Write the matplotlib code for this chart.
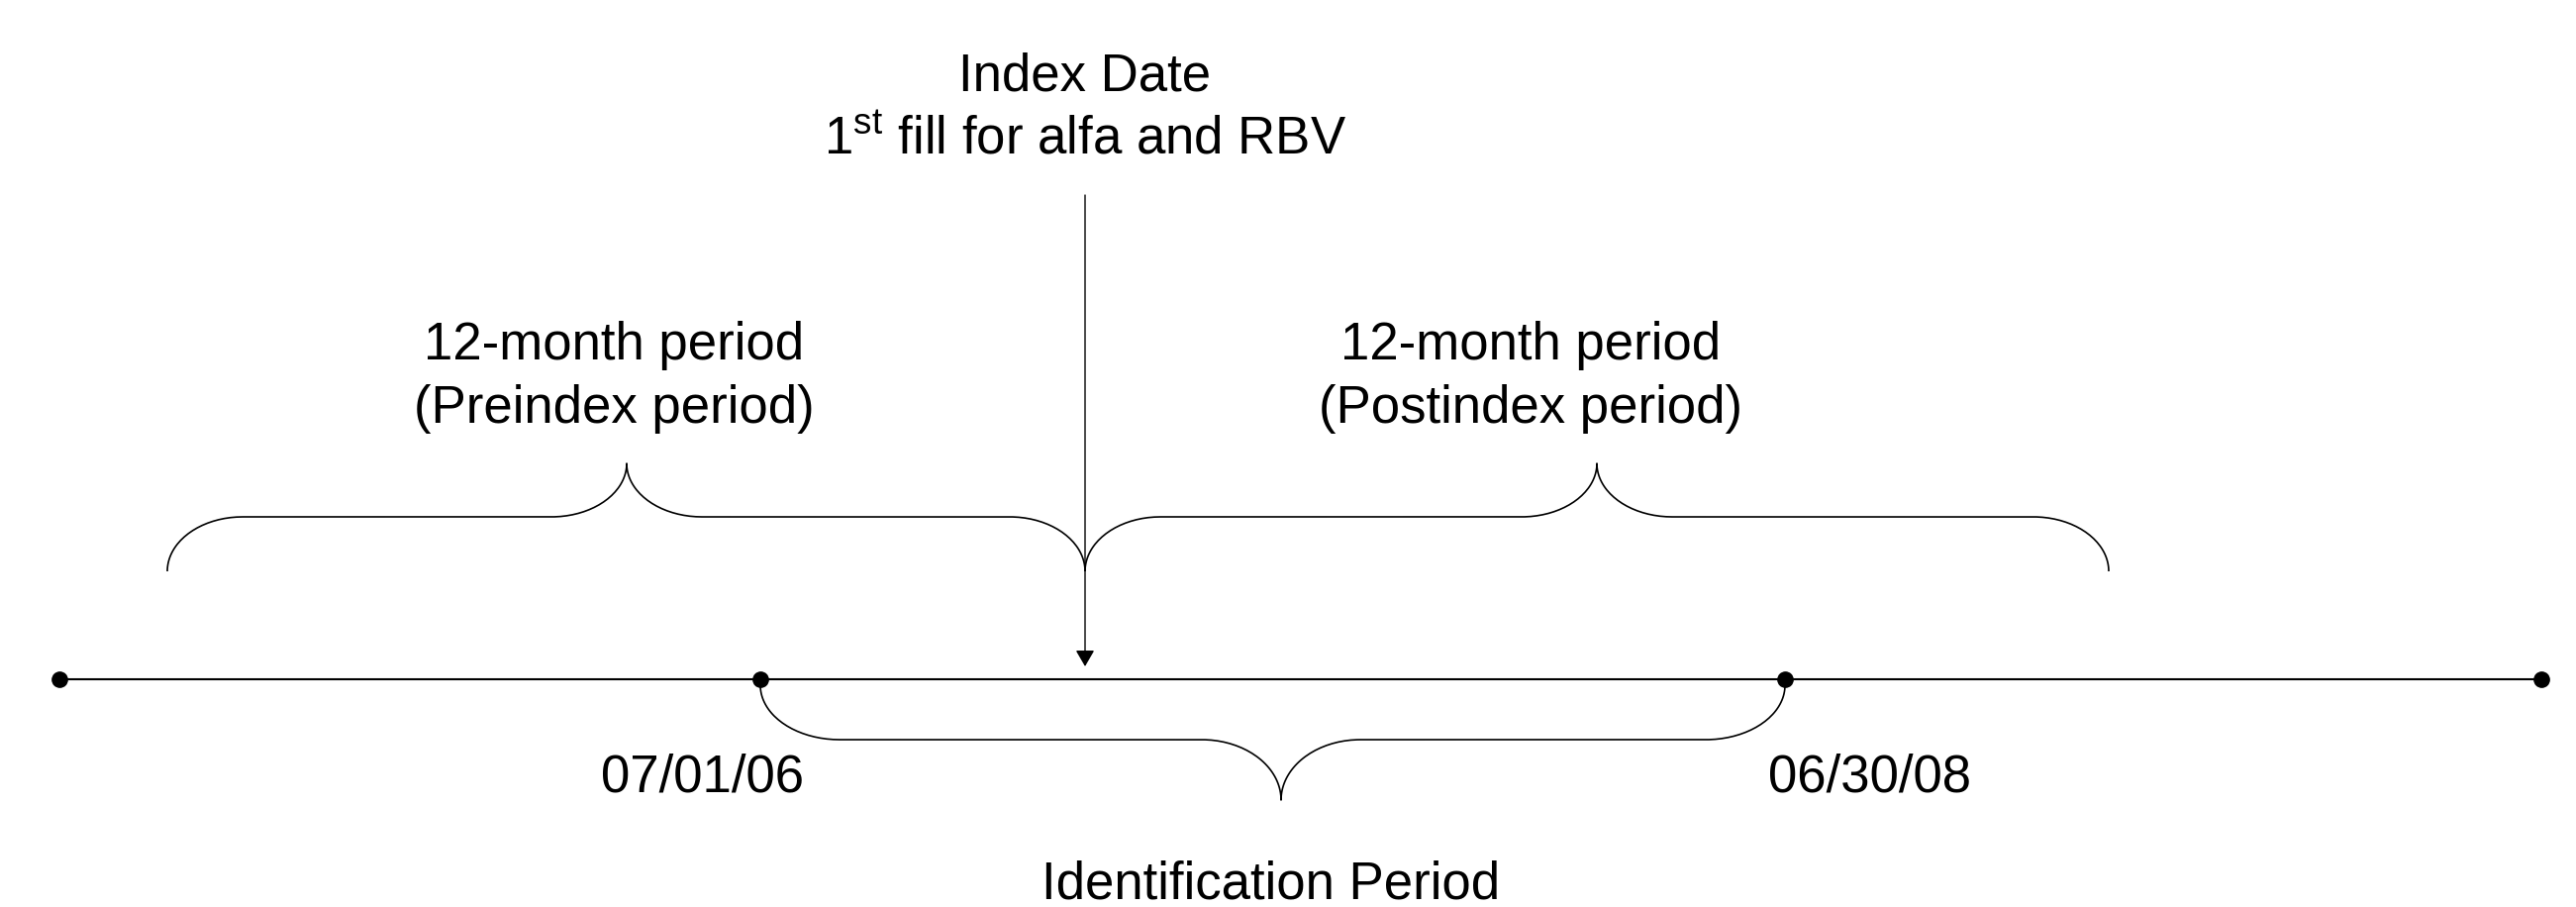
import matplotlib
matplotlib.use("Agg")
import matplotlib.pyplot as plt
import numpy as np

plt.rcParams["font.family"] = ["Liberation Sans", "DejaVu Sans"]
plt.rcParams["mathtext.fontset"] = "custom"
plt.rcParams["mathtext.rm"] = "Liberation Sans"

# timeline points (diagram units, x from left, y from top)
timeline_x = [60, 768, 1803, 2567]
timeline_y = 686
date_labels = ["07/01/06", "06/30/08"]
date_label_x = [710, 1888]

index_x = 1096
index_lines = ["Index Date", r"1$^{\mathrm{st}}$ fill for alfa and RBV"]

# top braces: (start, tip, end) and their labels
period_spans = [(169, 633, 1096), (1096, 1613, 2130)]
period_labels = [["12-month period", "(Preindex period)"],
                 ["12-month period", "(Postindex period)"]]
period_label_x = [620, 1546]

# bottom brace between the two dated points
ident_span = (768, 1294, 1803)
ident_label = "Identification Period"
ident_label_x = 1284


def brace(ax, x0, xm, x1, y_end, y_mid, y_tip, rx, lw=1.2):
    t = np.linspace(0, np.pi / 2, 40)
    ry_end = y_end - y_mid
    ry_tip = y_mid - y_tip
    # left end
    xa = x0 + rx - rx * np.cos(t)
    ya = y_end - ry_end * np.sin(t)
    # into the tip from the left
    xb = xm - rx + rx * np.sin(t)
    yb = y_tip + ry_tip * np.cos(t)
    # out of the tip to the right
    xc = xm + rx - rx * np.cos(t)
    yc = y_tip + ry_tip * np.sin(t)
    # right end
    xd = x1 - rx + rx * np.sin(t)
    yd = y_end - ry_end * np.cos(t)
    xs = np.concatenate([xa, xb, xc, xd])
    ys = np.concatenate([ya, yb, yc, yd])
    ax.plot(xs, ys, color="black", lw=lw, solid_capstyle="butt")


fig = plt.figure(figsize=(26.02, 9.16), dpi=100)
ax = fig.add_axes([0, 0, 1, 1])
ax.set_xlim(0, 2602)
ax.set_ylim(916, 0)
ax.axis("off")

fs = 38

# timeline
ax.plot([timeline_x[0], timeline_x[-1]], [timeline_y, timeline_y],
        color="black", lw=1.5)
ax.plot(timeline_x, [timeline_y] * len(timeline_x), "o", color="black",
        ms=11, lw=0)

# index date arrow
ax.annotate("", xy=(index_x, 673), xytext=(index_x, 197),
            arrowprops=dict(arrowstyle="-|>,head_length=0.5,head_width=0.29",
                            color="black", lw=1.0, mutation_scale=20,
                            shrinkA=0, shrinkB=0))
ax.text(index_x, 92, index_lines[0], ha="center", va="baseline", fontsize=fs)
ax.text(index_x, 155, index_lines[1], ha="center", va="baseline", fontsize=fs)

# period braces above the timeline
for (x0, xm, x1), lines, lx in zip(period_spans, period_labels, period_label_x):
    brace(ax, x0, xm, x1, 577, 522, 468, rx=76)
    ax.text(lx, 363, lines[0], ha="center", va="baseline", fontsize=fs)
    ax.text(lx, 427, lines[1], ha="center", va="baseline", fontsize=fs)

# identification period brace below the timeline
brace(ax, ident_span[0], ident_span[1], ident_span[2],
      timeline_y + 6, 747, 808, rx=80)
for lab, lx in zip(date_labels, date_label_x):
    ax.text(lx, 799, lab, ha="center", va="baseline", fontsize=fs)
ax.text(ident_label_x, 907, ident_label, ha="center", va="baseline",
        fontsize=fs)

fig.savefig("out.png", dpi=100, facecolor="white")
